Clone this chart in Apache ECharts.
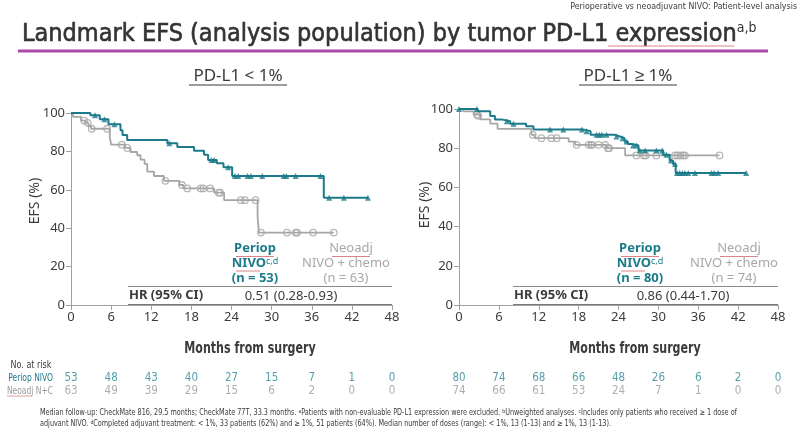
<!DOCTYPE html>
<html><head><meta charset="utf-8">
<script src="https://cdn.jsdelivr.net/npm/echarts@6/dist/echarts.min.js"></script>
<style>html,body{margin:0;padding:0;background:#fff}#c{width:800px;height:442px}</style>
</head><body><div id="c"></div>
<script>
// ---- data ----
const xTicks = [0, 6, 12, 18, 24, 30, 36, 42, 48];
const yTicks = [0, 20, 40, 60, 80, 100];
// PD-L1 < 1%
const lowPeriopCurve = [[0,100],[2.9,98.8],[4.3,96.7],[5.6,94.2],[7.4,91],[7.7,88.5],[8.4,86],[14.4,84.2],[15.9,82.3],[18.4,80.3],[19.9,78.3],[20.5,75.5],[21.8,73.8],[22.8,71.8],[24.1,67.2],[37.8,55.8],[44.4,55.8]];
const lowPeriopCensor = [[3.6,98.8],[5.0,96.7],[6.5,94.2],[14.7,84.2],[21.0,75.5],[21.4,75.5],[23.5,71.8],[24.5,67.2],[25.0,67.2],[26.4,67.2],[26.9,67.2],[28.6,67.2],[31.8,67.2],[32.2,67.2],[33.6,67.2],[37.3,67.2],[38.6,55.8],[40.8,55.8],[44.4,55.8]];
const lowNeoCurve = [[0,100],[0.3,98],[1.5,96],[2.2,94.9],[2.6,93.2],[3.0,91.8],[5.8,87.5],[6.0,83.5],[8.1,81.8],[8.9,79.7],[9.9,78],[10.4,75.7],[11.0,73.5],[11.4,69.5],[12.4,67.2],[13.9,64.7],[16.2,62.5],[16.8,60.7],[21.4,58.5],[22.9,54.6],[27.9,46],[28.1,37.7],[39.3,37.7]];
const lowNeoCensor = [[2.0,96],[2.5,94.9],[3.1,91.8],[5.4,91.8],[7.6,83.5],[8.4,81.8],[14.1,64.7],[16.6,62.5],[17.4,60.7],[19.4,60.7],[19.8,60.7],[20.8,60.7],[22.1,58.5],[22.3,58.5],[25.4,54.6],[26.0,54.6],[27.6,54.6],[28.4,37.7],[32.3,37.7],[33.6,37.7],[33.8,37.7],[36.2,37.7],[39.3,37.7]];
// PD-L1 >= 1%
const highPeriopCurve = [[0,100],[2.8,98.8],[4.7,96.4],[5.4,94.7],[6.4,93.7],[7.7,92.5],[10.1,91.2],[11.2,89.6],[18.6,88.7],[19.8,86.8],[23.5,86],[24.2,85.1],[24.9,83.4],[25.4,82.2],[26.0,81.4],[27.0,78.8],[30.7,76.6],[31.7,73.7],[32.2,72],[32.6,67.4],[43.2,67.4]];
const highPeriopCensor = [[0,100],[2.7,100],[7.2,93.7],[8.2,92.5],[13.7,89.6],[15.7,89.6],[18.5,89.6],[19.2,88.7],[20.7,86.8],[21.1,86.8],[21.5,86.8],[22.2,86.8],[23.7,86],[24.6,85.1],[25.2,83.4],[26.2,81.4],[26.7,81.4],[27.2,78.8],[28.0,78.8],[29.7,78.8],[30.6,78.8],[31.2,76.6],[31.9,73.7],[32.5,72],[32.8,67.4],[33.2,67.4],[33.6,67.4],[34.0,67.4],[34.5,67.4],[35.5,67.4],[38.0,67.4],[38.4,67.4],[39.0,67.4],[43.2,67.4]];
const highNeoCurve = [[0,100],[0.6,98.8],[2.2,97.2],[3.2,94.7],[4.7,92.5],[5.8,89.9],[10.9,86.8],[11.4,85.1],[16.5,83.4],[17.5,81.7],[22.2,80],[25.0,76.3],[39.2,76.3]];
const highNeoCensor = [[2.7,97.2],[2.9,96.5],[11.1,86.8],[12.4,85.1],[13.9,85.1],[14.7,85.1],[17.7,81.7],[19.5,81.7],[19.9,81.7],[20.0,81.7],[21.0,81.7],[22.0,81.7],[22.4,80],[22.6,80],[26.7,76.3],[27.8,76.3],[28.1,76.3],[29.7,76.3],[32.5,76.3],[32.9,76.3],[33.3,76.3],[33.7,76.3],[34.0,76.3],[39.2,76.3]];
// numbers at risk
const riskTimes = [0, 6, 12, 18, 24, 30, 36, 42, 48];
const lowPeriopRisk = [53, 48, 43, 40, 27, 15, 7, 1, 0];
const lowNeoRisk = [63, 49, 39, 29, 15, 6, 2, 0, 0];
const highPeriopRisk = [80, 74, 68, 66, 48, 26, 6, 2, 0];
const highNeoRisk = [74, 66, 61, 53, 24, 7, 1, 0, 0];
const panelTitles = ['PD-L1 < 1%', 'PD-L1 \u2265 1%'];
const periopN = ['(n = 53)', '(n = 80)'];
const neoN = ['(n = 63)', '(n = 74)'];
const hrText = ['0.51 (0.28-0.93)', '0.86 (0.44-1.70)'];

// ---- style ----
const TEAL = '#1b7b8a', GRAY = '#a6a6a6', DARK = '#3b3b3b', AX = '#a0a0a0';
const COND = '"DejaVu Sans Condensed", "DejaVu Sans", sans-serif';
const NOTO = '"Noto Sans", sans-serif';

const chart = echarts.init(document.getElementById('c'), null, {renderer: 'canvas'});

function xAx(gi, show) {
  return {type: 'value', gridIndex: gi, min: 0, max: 48, interval: 6, show: show,
    axisLine: {lineStyle: {color: AX, width: 1}}, axisTick: {show: true, length: 5, lineStyle: {color: AX}},
    axisLabel: {color: DARK, fontFamily: NOTO, fontSize: 13, margin: 6}, splitLine: {show: false}};
}
function yAx(gi) {
  return {type: 'value', gridIndex: gi, min: 0, max: 100, interval: 20,
    axisLine: {show: true, lineStyle: {color: AX, width: 1}}, axisTick: {show: true, length: 5, lineStyle: {color: AX}},
    axisLabel: {color: DARK, fontFamily: NOTO, fontSize: 13, margin: 6}, splitLine: {show: false}};
}
function curve(data, xi, color, w, z) {
  return {type: 'line', xAxisIndex: xi, yAxisIndex: xi, data: data, step: 'end', showSymbol: false, symbol: 'none',
    lineStyle: {color: color, width: w}, z: z, silent: true};
}
function censor(data, xi, color, isTri, z) {
  return {type: 'scatter', xAxisIndex: xi, yAxisIndex: xi, data: data,
    symbol: isTri ? 'triangle' : 'circle', symbolSize: isTri ? 6 : 6.5,
    itemStyle: isTri ? {color: color} : {color: 'rgba(255,255,255,0)', borderColor: color, borderWidth: 1.3}, z: z, silent: true};
}
function risk(vals, xi, row, color) {
  return {type: 'scatter', xAxisIndex: xi, yAxisIndex: xi, symbolSize: 1, itemStyle: {color: 'rgba(0,0,0,0)'},
    data: riskTimes.map((t, i) => [t, row, vals[i]]), silent: true,
    label: {show: true, position: 'inside', formatter: p => String(p.value[2]), color: color,
      fontFamily: COND, fontSize: 11.5}};
}

const graphics = [];
function txt(x, y, text, font, fill, align, extra) {
  graphics.push(Object.assign({type: 'text', x: x, y: y, silent: true,
    style: {text: text, font: font, fill: fill, textAlign: align || 'left', textVerticalAlign: 'middle'}}, extra || {}));
}
function line(x1, y1, x2, y2, color, w) {
  graphics.push({type: 'line', silent: true, shape: {x1: x1, y1: y1, x2: x2, y2: y2}, style: {stroke: color, lineWidth: w}});
}

// header
txt(797, 7, 'Perioperative vs neoadjuvant NIVO: Patient-level analysis', '8.8px ' + COND, DARK, 'right');
graphics.push({type: 'text', x: 22, y: 34, silent: true, style: {
  text: '{m|Landmark EFS (analysis population) by tumor PD-L1 expression}{s|a,b}',
  textVerticalAlign: 'middle',
  rich: {m: {font: '25px ' + COND, fill: '#333', stroke: '#333', lineWidth: 0.6},
         s: {font: '14px ' + COND, fill: '#333', verticalAlign: 'top'}}}});
line(608, 46, 734, 46, '#d9848a', 1);
line(18, 51, 768, 51, '#a94aa9', 3);

// panel headers etc.
const panels = [
  {hx: 238, efsX: 35, efsY: 201, pc: 255, nc: 346, hrL: 128, hrR: 392, hrC: 291, monthsC: 250},
  {hx: 628, efsX: 425, efsY: 205, pc: 640, nc: 734, hrL: 513, hrR: 778, hrC: 683, monthsC: 635}
];
panels.forEach((p, i) => {
  txt(p.hx, 76, panelTitles[i], '17px ' + NOTO, DARK, 'center');
  line(p.hx - 49, 85, p.hx + 49, 85, DARK, 1.2);
  txt(p.efsX, p.efsY, 'EFS (%)', '14px ' + NOTO, DARK, 'center', {rotation: Math.PI / 2});
  // legend
  txt(p.pc, 248, 'Periop', 'bold 13px ' + NOTO, TEAL, 'center');
  graphics.push({type: 'text', x: p.pc, y: 263, silent: true, style: {
    text: '{m|NIVO}{s|c,d}', textAlign: 'center', textVerticalAlign: 'middle',
    rich: {m: {font: 'bold 13px ' + NOTO, fill: TEAL}, s: {font: '9px ' + NOTO, fill: TEAL, verticalAlign: 'top'}}}});
  txt(p.pc, 278, periopN[i], 'bold 13px ' + NOTO, TEAL, 'center');
  txt(p.nc + 5, 248, 'Neoadj', '13px ' + NOTO, '#a8a8a8', 'center');
  txt(p.nc, 263, 'NIVO + chemo', '13px ' + NOTO, '#a8a8a8', 'center');
  txt(p.nc, 278, neoN[i], '13px ' + NOTO, '#a8a8a8', 'center');
  // squiggle underlines
  line(p.pc - 19, 256.5, p.pc + 19, 256.5, '#d9848a', 1);
  line(p.pc - 19, 271, p.pc + 5, 271, '#d9848a', 1);
  line(p.nc - 14, 256.5, p.nc + 24, 256.5, '#d9848a', 1);
  // HR row
  line(p.hrL, 286.5, p.hrR, 286.5, '#8a8a8a', 1);
  line(p.hrL, 304.5, p.hrR, 304.5, '#7a7a7a', 1.2);
  txt(p.hrL + 1, 295.5, 'HR (95% CI)', 'bold 13px ' + NOTO, DARK, 'left');
  txt(p.hrC, 296, hrText[i], '13px ' + NOTO, DARK, 'center');
  txt(p.monthsC, 349, 'Months from surgery', 'bold 15px ' + COND, DARK, 'center', {scaleX: 0.82});
});
// at-risk labels
txt(31, 365, 'No. at risk', '10.5px ' + COND, DARK, 'center', {scaleX: 0.85});
txt(53, 378, 'Periop NIVO', '10.5px ' + COND, TEAL, 'right', {scaleX: 0.8});
txt(53, 391, 'Neoadj N+C', '10.5px ' + COND, '#9a9a9a', 'right', {scaleX: 0.8});
line(7, 396, 32, 396, '#d9848a', 0.8);

// footnote
const FN = '8px ' + COND, FS = '5.5px ' + COND;
graphics.push({type: 'text', x: 40, y: 413, silent: true, scaleX: 0.9, style: {
  text: '{m|Median follow-up: CheckMate 816, 29.5 months; CheckMate 77T, 33.3 months. }{s|a}{m|Patients with non-evaluable PD-L1 expression were excluded. }{s|b}{m|Unweighted analyses. }{s|c}{m|Includes only patients who received \u2265 1 dose of}',
  textVerticalAlign: 'middle',
  rich: {m: {font: FN, fill: DARK}, s: {font: FS, fill: DARK, verticalAlign: 'top'}}}});
graphics.push({type: 'text', x: 40, y: 424, silent: true, scaleX: 0.9, style: {
  text: '{m|adjuvant NIVO. }{s|d}{m|Completed adjuvant treatment: < 1%, 33 patients (62%) and \u2265 1%, 51 patients (64%). Median number of doses (range): < 1%, 13 (1-13) and \u2265 1%, 13 (1-13).}',
  textVerticalAlign: 'middle',
  rich: {m: {font: FN, fill: DARK}, s: {font: FS, fill: DARK, verticalAlign: 'top'}}}});

const option = {
  animation: false,
  backgroundColor: '#fff',
  grid: [
    {left: 71, top: 113, width: 321, height: 192},
    {left: 459, top: 109, width: 319, height: 196},
    {left: 71, top: 372, width: 321, height: 26},
    {left: 459, top: 372, width: 319, height: 26}
  ],
  xAxis: [xAx(0, true), xAx(1, true), xAx(2, false), xAx(3, false)],
  yAxis: [yAx(0), yAx(1),
    {type: 'category', gridIndex: 2, data: ['Periop', 'Neoadj'], inverse: true, show: false},
    {type: 'category', gridIndex: 3, data: ['Periop', 'Neoadj'], inverse: true, show: false}],
  series: [
    curve(lowNeoCurve, 0, GRAY, 1.8, 2), censor(lowNeoCensor, 0, GRAY, false, 3),
    curve(lowPeriopCurve, 0, TEAL, 2, 4), censor(lowPeriopCensor, 0, TEAL, true, 5),
    curve(highNeoCurve, 1, GRAY, 1.8, 2), censor(highNeoCensor, 1, GRAY, false, 3),
    curve(highPeriopCurve, 1, TEAL, 2, 4), censor(highPeriopCensor, 1, TEAL, true, 5),
    risk(lowPeriopRisk, 2, 'Periop', '#2a8795'), risk(lowNeoRisk, 2, 'Neoadj', '#9a9a9a'),
    risk(highPeriopRisk, 3, 'Periop', '#2a8795'), risk(highNeoRisk, 3, 'Neoadj', '#9a9a9a')
  ],
  graphic: graphics
};
chart.setOption(option);
</script>
</body></html>
